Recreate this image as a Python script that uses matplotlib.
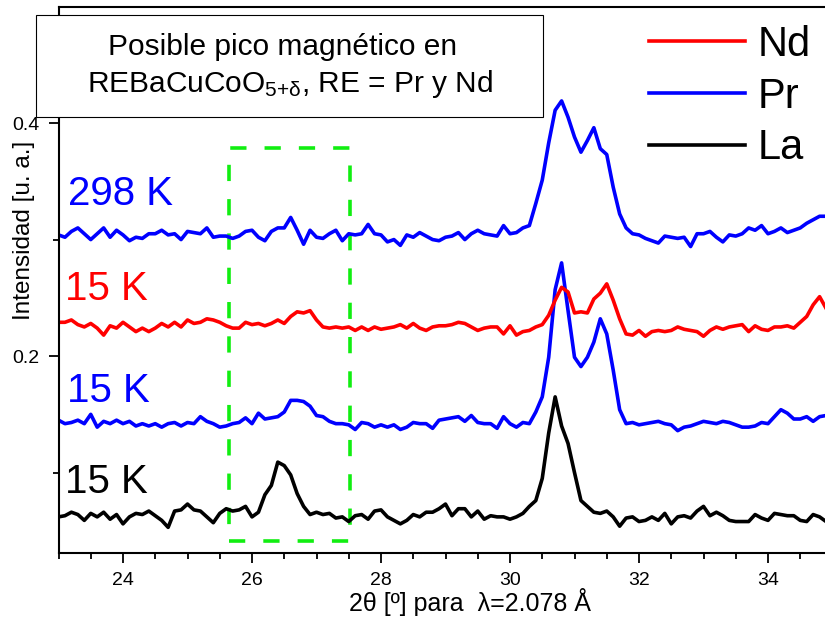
import numpy as np
import matplotlib
matplotlib.use("Agg")
import matplotlib.pyplot as plt
from matplotlib.patches import Rectangle
from matplotlib.ticker import MultipleLocator, FixedLocator

plt.rcParams['font.family'] = ['Liberation Sans', 'DejaVu Sans']
plt.rcParams['mathtext.fontset'] = 'custom'
plt.rcParams['mathtext.rm'] = 'Liberation Sans'
plt.rcParams['mathtext.it'] = 'Liberation Sans:italic'

# 2theta grid (deg), one reading every 0.1 deg
two_theta = np.round(np.arange(23.0, 34.95, 0.1), 1)

pr_298 = [0.304, 0.302, 0.307, 0.310, 0.305, 0.300, 0.305, 0.310, 0.302, 0.308,
          0.304, 0.299, 0.302, 0.301, 0.305, 0.305, 0.308, 0.304, 0.305, 0.300,
          0.307, 0.306, 0.305, 0.310, 0.302, 0.303, 0.303, 0.301, 0.303, 0.307,
          0.308, 0.302, 0.299, 0.307, 0.310, 0.310, 0.319, 0.308, 0.296, 0.308,
          0.302, 0.301, 0.305, 0.308, 0.299, 0.305, 0.304, 0.305, 0.313, 0.305,
          0.304, 0.298, 0.300, 0.295, 0.304, 0.302, 0.306, 0.303, 0.300, 0.299,
          0.302, 0.303, 0.306, 0.300, 0.305, 0.308, 0.305, 0.304, 0.303, 0.312,
          0.305, 0.306, 0.310, 0.312, 0.331, 0.351, 0.383, 0.411, 0.419, 0.405,
          0.388, 0.375, 0.385, 0.396, 0.378, 0.373, 0.345, 0.322, 0.310, 0.305,
          0.304, 0.301, 0.299, 0.297, 0.303, 0.302, 0.301, 0.302, 0.294, 0.305,
          0.305, 0.307, 0.302, 0.298, 0.304, 0.303, 0.305, 0.310, 0.308, 0.312,
          0.305, 0.307, 0.310, 0.306, 0.308, 0.310, 0.314, 0.317, 0.320, 0.320]

nd_15 = [0.229, 0.229, 0.231, 0.227, 0.225, 0.228, 0.224, 0.218, 0.226, 0.224,
         0.229, 0.225, 0.221, 0.224, 0.221, 0.224, 0.228, 0.225, 0.229, 0.225,
         0.231, 0.228, 0.229, 0.232, 0.231, 0.229, 0.226, 0.224, 0.224, 0.229,
         0.227, 0.228, 0.226, 0.228, 0.231, 0.228, 0.234, 0.238, 0.237, 0.239,
         0.231, 0.225, 0.224, 0.225, 0.224, 0.225, 0.222, 0.225, 0.222, 0.225,
         0.223, 0.224, 0.225, 0.227, 0.224, 0.228, 0.224, 0.222, 0.225, 0.226,
         0.226, 0.227, 0.229, 0.228, 0.225, 0.222, 0.224, 0.225, 0.225, 0.219,
         0.226, 0.218, 0.221, 0.222, 0.225, 0.227, 0.235, 0.248, 0.259, 0.255,
         0.237, 0.238, 0.237, 0.249, 0.254, 0.262, 0.248, 0.232, 0.219, 0.218,
         0.222, 0.217, 0.221, 0.222, 0.221, 0.222, 0.225, 0.223, 0.222, 0.221,
         0.217, 0.222, 0.225, 0.223, 0.225, 0.226, 0.227, 0.221, 0.226, 0.223,
         0.222, 0.225, 0.225, 0.226, 0.224, 0.229, 0.234, 0.244, 0.251, 0.241]

pr_15 = [0.145, 0.142, 0.143, 0.145, 0.142, 0.150, 0.139, 0.144, 0.142, 0.145,
         0.142, 0.144, 0.140, 0.142, 0.140, 0.142, 0.139, 0.142, 0.143, 0.140,
         0.143, 0.142, 0.148, 0.144, 0.142, 0.139, 0.140, 0.142, 0.143, 0.147,
         0.142, 0.151, 0.146, 0.147, 0.148, 0.152, 0.162, 0.162, 0.161, 0.157,
         0.149, 0.148, 0.144, 0.142, 0.142, 0.141, 0.137, 0.143, 0.142, 0.139,
         0.141, 0.139, 0.141, 0.137, 0.139, 0.143, 0.142, 0.142, 0.138, 0.145,
         0.146, 0.147, 0.148, 0.144, 0.149, 0.143, 0.142, 0.142, 0.138, 0.148,
         0.142, 0.139, 0.143, 0.142, 0.152, 0.165, 0.199, 0.257, 0.280, 0.239,
         0.199, 0.191, 0.199, 0.212, 0.232, 0.219, 0.188, 0.154, 0.142, 0.143,
         0.141, 0.142, 0.143, 0.144, 0.142, 0.141, 0.136, 0.139, 0.140, 0.142,
         0.144, 0.143, 0.142, 0.144, 0.143, 0.141, 0.139, 0.139, 0.140, 0.143,
         0.142, 0.148, 0.154, 0.151, 0.146, 0.146, 0.148, 0.144, 0.148, 0.149]

la_15 = [0.062, 0.063, 0.066, 0.064, 0.059, 0.065, 0.062, 0.066, 0.060, 0.064,
         0.056, 0.062, 0.065, 0.064, 0.067, 0.063, 0.059, 0.053, 0.067, 0.068,
         0.073, 0.068, 0.067, 0.062, 0.057, 0.065, 0.069, 0.067, 0.068, 0.071,
         0.062, 0.066, 0.081, 0.089, 0.109, 0.106, 0.098, 0.082, 0.071, 0.064,
         0.066, 0.064, 0.065, 0.061, 0.062, 0.058, 0.063, 0.064, 0.060, 0.067,
         0.068, 0.062, 0.059, 0.056, 0.059, 0.064, 0.062, 0.066, 0.066, 0.069,
         0.073, 0.063, 0.069, 0.069, 0.062, 0.067, 0.060, 0.063, 0.062, 0.062,
         0.060, 0.062, 0.065, 0.071, 0.076, 0.095, 0.134, 0.165, 0.140, 0.125,
         0.100, 0.076, 0.071, 0.066, 0.065, 0.067, 0.062, 0.054, 0.061, 0.062,
         0.058, 0.059, 0.062, 0.059, 0.065, 0.056, 0.062, 0.063, 0.061, 0.067,
         0.071, 0.063, 0.066, 0.063, 0.059, 0.058, 0.058, 0.058, 0.064, 0.061,
         0.059, 0.065, 0.064, 0.063, 0.063, 0.059, 0.058, 0.064, 0.062, 0.058]

# region of the possible magnetic peak
box_x = (25.65, 27.52)
box_y = (0.041, 0.379)

W, H = 825, 619
fig = plt.figure(figsize=(W / 100, H / 100), dpi=100)
ax = fig.add_axes([58.5 / W, 66 / H, 774 / W, 546 / H])

lw = 2.6
l_la, = ax.plot(two_theta, la_15, color='black', lw=lw)
l_pr, = ax.plot(two_theta, pr_15, color='#0000ff', lw=lw)
l_nd, = ax.plot(two_theta, nd_15, color='#ff0000', lw=lw)
ax.plot(two_theta, pr_298, color='#0000ff', lw=lw)

ax.add_patch(Rectangle((box_x[0], box_y[0]), box_x[1] - box_x[0], box_y[1] - box_y[0],
                       fill=False, edgecolor='#11ee11', lw=2.6, linestyle=(0, (4.5, 5))))

ax.set_xlim(23, 35)
ax.set_ylim(0.031, 0.4996)
ax.xaxis.set_major_locator(MultipleLocator(2))
ax.xaxis.set_minor_locator(MultipleLocator(0.5))
ax.yaxis.set_major_locator(FixedLocator([0.2, 0.4]))
ax.yaxis.set_minor_locator(FixedLocator([0.1, 0.3]))
ax.yaxis.set_major_formatter(plt.FuncFormatter(lambda v, p: f"{v:.1f}"))
ax.tick_params(which='major', length=7.5, width=1.3, labelsize=14, pad=6)
ax.tick_params(which='minor', length=4.5, width=1.3)
for s in ax.spines.values():
    s.set_linewidth(1.5)

ax.text(23.15, 0.330, '298 K', color='#0000ff', fontsize=29, va='baseline')
ax.text(23.10, 0.248, '15 K', color='#ff0000', fontsize=29, va='baseline')
ax.text(23.13, 0.1605, '15 K', color='#0000ff', fontsize=29, va='baseline')
ax.text(23.10, 0.0824, '15 K', color='black', fontsize=29, va='baseline')

ax.legend([l_nd, l_pr, l_la], ['Nd', 'Pr', 'La'], loc='upper left',
          bbox_to_anchor=(649 / W, 1 - 25 / H), bbox_transform=fig.transFigure,
          frameon=False, fontsize=30, handlelength=2.3, handletextpad=0.3,
          labelspacing=0.28, borderpad=0, borderaxespad=0)

# note box over the top-left corner
fig.patches.append(Rectangle((36 / W, 1 - 117 / H), 507 / W, 102 / H,
                             transform=fig.transFigure, facecolor='white',
                             edgecolor='black', lw=0.8, zorder=5))
fig.text(283 / W, 1 - 47 / H, 'Posible pico magnético en', fontsize=21.5,
         ha='center', va='center', zorder=6)
fig.text(290 / W, 1 - 84 / H, r'REBaCuCoO$_{\mathregular{5{+}\delta}}$, RE = Pr y Nd',
         fontsize=21.5, ha='center', va='center', zorder=6)

fig.text(24 / W, 1 - 230 / H, 'Intensidad [u. a.]', fontsize=17.5, rotation=90,
         ha='center', va='center')
fig.text(470 / W, 1 - 602 / H, '2θ [º] para  λ=2.078 Å', fontsize=18,
         ha='center', va='center')

fig.savefig('out.png', dpi=100)
